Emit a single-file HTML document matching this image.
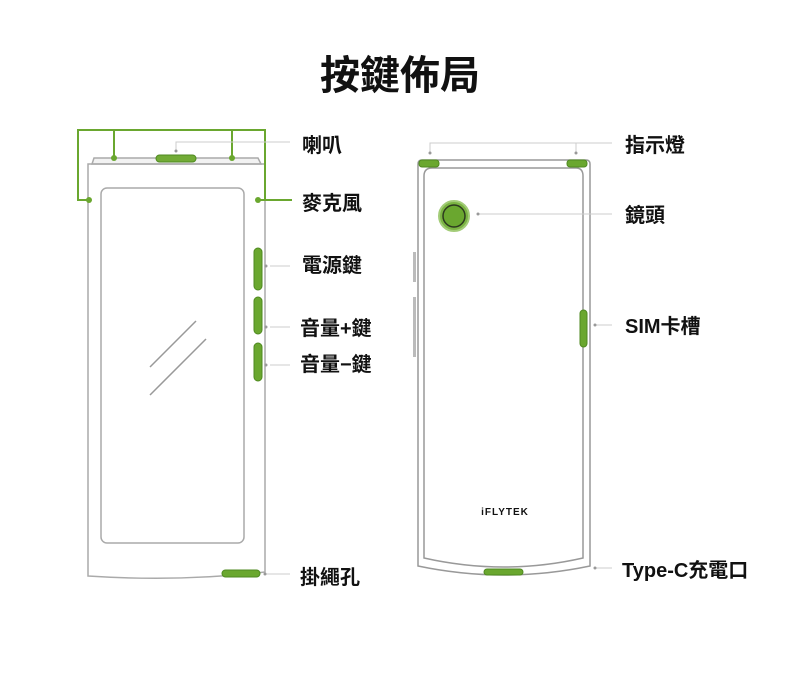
<!DOCTYPE html>
<html><head><meta charset="utf-8"><style>
html,body{margin:0;padding:0;background:#fff;width:800px;height:677px;overflow:hidden}
svg{display:block}
text{font-family:"Liberation Sans","Noto Sans CJK TC",sans-serif;fill:#111}
</style></head><body>
<svg width="800" height="677" viewBox="0 0 800 677">
<text x="400" y="89" font-size="40" font-weight="bold" text-anchor="middle">按鍵佈局</text>

<!-- LEFT PHONE -->
<g fill="none" stroke="#aaa" stroke-width="1.5">
  <path d="M92 164 L94 158 L258 158 L261 164 Z" fill="#f2f2f2"/>
  <path d="M88 164 L265 164 L265 572 Q180 582 88 576 Z"/>
  <rect x="101" y="188" width="143" height="355" rx="6"/>
  <line x1="150" y1="367" x2="196" y2="321" stroke="#999"/>
  <line x1="150" y1="395" x2="206" y2="339" stroke="#999"/>
</g>
<g stroke="#6aa72f" stroke-width="2" fill="none">
  <path d="M89 200 L78 200 L78 130 L265 130 L265 200 L292 200"/>
  <line x1="114" y1="130" x2="114" y2="158"/>
  <line x1="232" y1="130" x2="232" y2="158"/>
  <line x1="258" y1="200" x2="265" y2="200"/>
</g>
<g fill="#6aa72f">
  <circle cx="114" cy="158" r="3"/><circle cx="232" cy="158" r="3"/>
  <circle cx="89" cy="200" r="3"/><circle cx="258" cy="200" r="3"/>
  <rect x="156" y="155" width="40" height="7" rx="3.5" fill="#72ab36" stroke="#4f8a20"/>
  <rect x="254" y="248" width="8" height="42" rx="4" stroke="#4f8a20"/>
  <rect x="254" y="297" width="8" height="37" rx="4" stroke="#4f8a20"/>
  <rect x="254" y="343" width="8" height="38" rx="4" stroke="#4f8a20"/>
  <rect x="222" y="570" width="38" height="7" rx="3.5" stroke="#4f8a20"/>
</g>
<g stroke="#ccc" stroke-width="1" fill="#999">
  <path d="M176 151 L176 142 L290 142" fill="none"/>
  <line x1="270" y1="266" x2="290" y2="266"/>
  <line x1="270" y1="327" x2="290" y2="327"/>
  <line x1="270" y1="365" x2="290" y2="365"/>
  <line x1="266" y1="574" x2="290" y2="574"/>
  <circle cx="176" cy="151" r="1.5" stroke="none"/>
  <circle cx="266" cy="266" r="1.5" stroke="none"/>
  <circle cx="266" cy="327" r="1.5" stroke="none"/>
  <circle cx="266" cy="365" r="1.5" stroke="none"/>
  <circle cx="265" cy="574" r="1.5" stroke="none"/>
</g>
<g font-size="20" font-weight="bold">
  <text x="302" y="152">喇叭</text>
  <text x="302" y="210">麥克風</text>
  <text x="302" y="272">電源鍵</text>
  <text x="300" y="335">音量+鍵</text>
  <text x="300" y="371">音量−鍵</text>
  <text x="300" y="584">掛繩孔</text>
</g>

<!-- RIGHT PHONE -->
<g fill="none" stroke="#999" stroke-width="1.5">
  <path d="M418 164 Q418 160 422 160 L586 160 Q590 160 590 164 L590 566 Q504 584 418 566 Z"/>
  <path d="M424 176 Q424 168 432 168 L576 168 Q583 168 583 176 L583 558 Q504 576 424 558 Z"/>
  <rect x="413" y="252" width="3" height="30" fill="#bbb" stroke="none"/>
  <rect x="413" y="297" width="3" height="60" fill="#bbb" stroke="none"/>
</g>
<g fill="#6aa72f" stroke="#4f8a20">
  <rect x="419" y="160" width="20" height="7" rx="3"/>
  <rect x="567" y="160" width="20" height="7" rx="3"/>
  <circle cx="454" cy="216" r="15" fill="#7ab342" stroke="#a3cc78" stroke-width="2"/>
  <circle cx="454" cy="216" r="11" fill="#6aa72f" stroke="#2d3a1f" stroke-width="1.5"/>
  <rect x="580" y="310" width="7" height="37" rx="3.5"/>
  <rect x="484" y="569" width="39" height="6" rx="3"/>
</g>
<g stroke="#ccc" stroke-width="1" fill="#999">
  <path d="M430 154 L430 143 L576 143 L576 154" fill="none"/>
  <line x1="576" y1="143" x2="612" y2="143"/>
  <line x1="478" y1="214" x2="612" y2="214"/>
  <line x1="596" y1="325" x2="612" y2="325"/>
  <line x1="596" y1="568" x2="612" y2="568"/>
  <circle cx="430" cy="153" r="1.5" stroke="none"/>
  <circle cx="576" cy="153" r="1.5" stroke="none"/>
  <circle cx="478" cy="214" r="1.5" stroke="none"/>
  <circle cx="595" cy="325" r="1.5" stroke="none"/>
  <circle cx="595" cy="568" r="1.5" stroke="none"/>
</g>
<text x="505" y="515" font-size="10" font-weight="bold" text-anchor="middle" letter-spacing="1">iFLYTEK</text>
<g font-size="20" font-weight="bold">
  <text x="625" y="152">指示燈</text>
  <text x="625" y="222">鏡頭</text>
  <text x="625" y="333">SIM卡槽</text>
  <text x="622" y="577">Type-C充電口</text>
</g>
</svg>
</body></html>
